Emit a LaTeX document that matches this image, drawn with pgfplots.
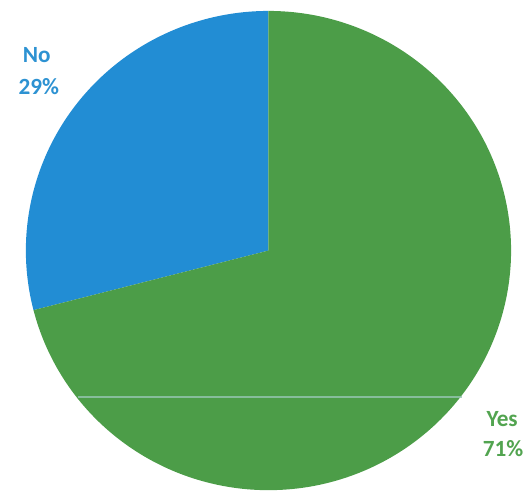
\documentclass[border=0pt]{standalone}
\usepackage{pgfplots}
\usepackage{pgfplotstable}
\pgfplotsset{compat=1.18}
\usepackage{fontspec}
\setmainfont{Carlito}
\definecolor{pieblue}{RGB}{34,141,212}
\definecolor{piegreen}{RGB}{76,157,72}
\definecolor{labblue}{RGB}{45,146,210}
\definecolor{labgreen}{RGB}{82,164,80}
\definecolor{scanline}{RGB}{150,198,178}
\pgfplotstableread{
label value
No 29
Yes 71
}\piedata
\begin{document}
\pgfplotstablegetelem{0}{value}\of\piedata
\pgfmathsetmacro\aEnd{90+3.6*\pgfplotsretval}
\begin{tikzpicture}
\useasboundingbox (0,0) rectangle (393pt,378.75pt);
\begin{axis}[
  scale only axis, width=393pt, height=378.75pt,
  xmin=0, xmax=524, ymin=0, ymax=505,
  hide axis, clip=false,
]
\addplot[draw=none, fill=pieblue, domain=90:\aEnd, samples=120, variable=\t]
  ({267+244*cos(\t)}, {253+241*sin(\t)}) -- (axis cs:267,253) -- cycle;
\addplot[draw=none, fill=piegreen, domain=\aEnd:450, samples=240, variable=\t]
  ({267+244*cos(\t)}, {253+241*sin(\t)}) -- (axis cs:267,253) -- cycle;
\addplot[scanline, line width=1.6pt, opacity=0.8] coordinates {(75,106) (462,106)};
\node[anchor=base, text=labblue, font=\fontsize{17.5}{20}\selectfont\bfseries] at (axis cs:34,442) {No};
\node[anchor=base, text=labblue, font=\fontsize{17.5}{20}\selectfont\bfseries] at (axis cs:36,410) {29\%};
\node[anchor=base, text=labgreen, font=\fontsize{17.5}{20}\selectfont\bfseries] at (axis cs:502,76) {Yes};
\node[anchor=base, text=labgreen, font=\fontsize{17.5}{20}\selectfont\bfseries] at (axis cs:503,46) {71\%};
\end{axis}
\end{tikzpicture}
\end{document}
